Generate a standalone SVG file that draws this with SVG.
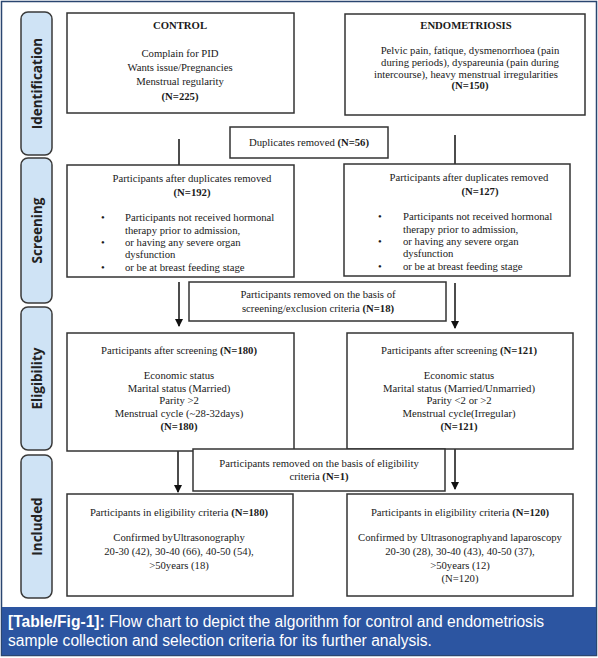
<svg xmlns="http://www.w3.org/2000/svg" width="598" height="658" viewBox="0 0 598 658">
<defs>
<marker id="ah" markerWidth="8" markerHeight="8" refX="7" refY="4" orient="auto" markerUnits="userSpaceOnUse">
<path d="M0,0 L8,4 L0,8 Z" fill="#111"/>
</marker>
<style>
.box{fill:#fff;stroke:#333;stroke-width:1.5}
.pill{fill:#cfe3f5;stroke:#3a3a3a;stroke-width:1.5}
.pl{font-family:"Open Sans","DejaVu Sans",sans-serif;font-weight:bold;font-size:13.5px;fill:#222;text-anchor:middle}
.t{font-family:"Liberation Serif","Times New Roman",serif;font-size:10.7px;fill:#1a1a1a}
.c{text-anchor:middle}
.b{font-weight:bold}
.ln{stroke:#111;stroke-width:1.5;fill:none}
.cap{font-family:"Liberation Sans",Arial,sans-serif;font-size:15.6px;fill:#fff}
</style>
</defs>
<rect x="0" y="0" width="598" height="658" fill="#fff"/>
<rect x="1.5" y="1.5" width="595" height="654" fill="none" stroke="#2a4670" stroke-width="1.5"/>

<g id="stage-identification"><rect class="pill" x="21" y="12" width="31" height="143" rx="7"/><text class="pl" transform="translate(42,83.5) rotate(-90)">Identification</text></g>
<g id="stage-screening"><rect class="pill" x="21" y="158" width="31" height="145" rx="7"/><text class="pl" transform="translate(42,230.5) rotate(-90)">Screening</text></g>
<g id="stage-eligibility"><rect class="pill" x="21" y="307" width="31" height="143" rx="7"/><text class="pl" transform="translate(42,378.5) rotate(-90)">Eligibility</text></g>
<g id="stage-included"><rect class="pill" x="21" y="455" width="31" height="143" rx="7"/><text class="pl" transform="translate(42,526.5) rotate(-90)">Included</text></g>

<g id="connectors">
<line class="ln" x1="179" y1="139" x2="179" y2="165"/>
<line class="ln" x1="455" y1="135" x2="455" y2="164"/>
<line class="ln" x1="179" y1="282" x2="179" y2="326" marker-end="url(#ah)"/>
<line class="ln" x1="455" y1="283" x2="455" y2="328" marker-end="url(#ah)"/>
<line class="ln" x1="178" y1="447" x2="178" y2="492" marker-end="url(#ah)"/>
<line class="ln" x1="455" y1="443" x2="455" y2="489" marker-end="url(#ah)"/>
</g>

<g id="control">
<rect class="box" x="67" y="13" width="227" height="100"/>
<text class="t c b" x="180" y="29">CONTROL</text>
<text class="t c" x="180" y="57">Complain for PID</text>
<text class="t c" x="180" y="71">Wants issue/Pregnancies</text>
<text class="t c" x="180" y="85">Menstrual regularity</text>
<text class="t c b" x="180" y="100">(N=225)</text>
</g>

<g id="endometriosis">
<rect class="box" x="345" y="14" width="240" height="101"/>
<text class="t c b" x="466" y="29">ENDOMETRIOSIS</text>
<text class="t c" x="470" y="54">Pelvic pain, fatique, dysmenorrhoea (pain</text>
<text class="t c" x="470" y="66">during periods), dyspareunia (pain during</text>
<text class="t c" x="466" y="78">intercourse), heavy menstrual irregularities</text>
<text class="t c b" x="470" y="89">(N=150)</text>
</g>

<g id="duplicates">
<rect class="box" x="230" y="127" width="158" height="31"/>
<text class="t c" x="309" y="146">Duplicates removed <tspan class="b">(N=56)</tspan></text>
</g>

<g id="control-screening">
<rect class="box" x="67" y="165" width="227" height="112"/>
<text class="t c" x="192" y="182">Participants after duplicates removed</text>
<text class="t c b" x="192" y="196">(N=192)</text>
<text class="t" x="101" y="221">•</text><text class="t" x="125" y="221">Participants not received hormonal</text>
<text class="t" x="125" y="234">therapy prior to admission,</text>
<text class="t" x="101" y="246">•</text><text class="t" x="125" y="246">or having any severe organ</text>
<text class="t" x="125" y="258">dysfunction</text>
<text class="t" x="101" y="271">•</text><text class="t" x="125" y="271">or be at breast feeding stage</text>
</g>

<g id="endo-screening">
<rect class="box" x="344" y="164" width="226" height="112"/>
<text class="t c" x="469" y="181">Participants after duplicates removed</text>
<text class="t c b" x="480" y="195">(N=127)</text>
<text class="t" x="378" y="220">•</text><text class="t" x="403" y="220">Participants not received hormonal</text>
<text class="t" x="403" y="233">therapy prior to admission,</text>
<text class="t" x="378" y="245">•</text><text class="t" x="403" y="245">or having any severe organ</text>
<text class="t" x="403" y="257">dysfunction</text>
<text class="t" x="378" y="270">•</text><text class="t" x="403" y="270">or be at breast feeding stage</text>
</g>

<g id="removed-screening">
<rect class="box" x="189" y="282" width="257" height="39"/>
<text class="t c" x="318" y="298">Participants removed on the basis of</text>
<text class="t c" x="318" y="312">screening/exclusion criteria <tspan class="b">(N=18)</tspan></text>
</g>

<g id="control-eligibility">
<rect class="box" x="67" y="333" width="227" height="118"/>
<text class="t c" x="179" y="354">Participants after screening <tspan class="b">(N=180)</tspan></text>
<text class="t c" x="179" y="379">Economic status</text>
<text class="t c" x="179" y="392">Marital status (Married)</text>
<text class="t c" x="179" y="404">Parity &gt;2</text>
<text class="t c" x="179" y="417">Menstrual cycle (~28-32days)</text>
<text class="t c b" x="179" y="430">(N=180)</text>
</g>

<g id="endo-eligibility">
<rect class="box" x="347" y="333" width="226" height="116"/>
<text class="t c" x="459" y="354">Participants after screening <tspan class="b">(N=121)</tspan></text>
<text class="t c" x="459" y="379">Economic status</text>
<text class="t c" x="459" y="392">Marital status (Married/Unmarried)</text>
<text class="t c" x="459" y="404">Parity &lt;2 or &gt;2</text>
<text class="t c" x="459" y="417">Menstrual cycle(Irregular)</text>
<text class="t c b" x="459" y="430">(N=121)</text>
</g>

<g id="removed-eligibility">
<rect class="box" x="193" y="449" width="252" height="42"/>
<text class="t c" x="319" y="467">Participants removed on the basis of eligibility</text>
<text class="t c" x="319" y="480">criteria <tspan class="b">(N=1)</tspan></text>
</g>

<g id="control-included">
<rect class="box" x="67" y="494" width="226" height="102"/>
<text class="t c" x="179" y="516">Participants in eligibility criteria <tspan class="b">(N=180)</tspan></text>
<text class="t c" x="179" y="541">Confirmed byUltrasonography</text>
<text class="t c" x="179" y="555">20-30 (42), 30-40 (66), 40-50 (54),</text>
<text class="t c" x="179" y="569">&gt;50years (18)</text>
</g>

<g id="endo-included">
<rect class="box" x="347" y="494" width="226" height="102"/>
<text class="t c" x="460" y="516">Participants in eligibility criteria <tspan class="b">(N=120)</tspan></text>
<text class="t c" x="460" y="541">Confirmed by Ultrasonographyand laparoscopy</text>
<text class="t c" x="460" y="555">20-30 (28), 30-40 (43), 40-50 (37),</text>
<text class="t c" x="460" y="569">&gt;50years (12)</text>
<text class="t c" x="460" y="582">(N=120)</text>
</g>

<g id="caption">
<rect x="2" y="607" width="594" height="48" fill="#2c55a1"/>
<text class="cap" x="8" y="627"><tspan font-weight="bold">[Table/Fig-1]:</tspan> Flow chart to depict the algorithm for control and endometriosis</text>
<text class="cap" x="8" y="646">sample collection and selection criteria for its further analysis.</text>
</g>
</svg>
